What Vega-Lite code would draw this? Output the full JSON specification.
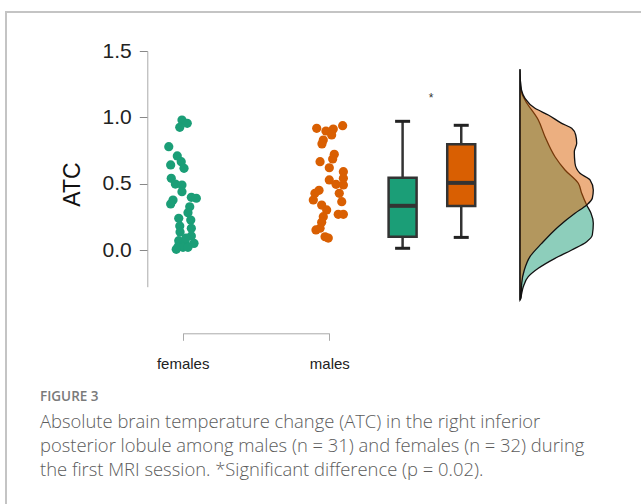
{
  "$schema": "https://vega.github.io/schema/vega-lite/v6.json",
  "width": 639,
  "height": 496,
  "autosize": {"type": "none"},
  "padding": {"left": 6, "top": 12, "right": -4, "bottom": -4},
  "background": "white",
  "config": {
    "view": {"stroke": "#c4c4c4", "strokeWidth": 2},
    "axis": {"grid": false}
  },
  "title": {
    "text": "FIGURE 3",
    "subtitle": [
      "Absolute brain temperature change (ATC) in the right inferior",
      "posterior lobule among males (n = 31) and females (n = 32) during",
      "the first MRI session. *Significant difference (p = 0.02)."
    ],
    "orient": "bottom",
    "anchor": "start",
    "frame": "group",
    "offset": -118,
    "dx": 34,
    "font": "Open Sans",
    "fontSize": 13.5,
    "fontWeight": 600,
    "color": "#7a7a7a",
    "subtitleFont": "Open Sans",
    "subtitleFontSize": 18.4,
    "subtitleFontWeight": 300,
    "subtitleColor": "#5c5c5c",
    "subtitleLineHeight": 24,
    "subtitlePadding": 9
  },
  "datasets": {
    "points": [
      {"group": "females", "pos": 0.995, "ATC": 0.98},
      {"group": "females", "pos": 1.031, "ATC": 0.955},
      {"group": "females", "pos": 0.98, "ATC": 0.925},
      {"group": "females", "pos": 0.905, "ATC": 0.779},
      {"group": "females", "pos": 0.963, "ATC": 0.709},
      {"group": "females", "pos": 0.99, "ATC": 0.666},
      {"group": "females", "pos": 1.009, "ATC": 0.616},
      {"group": "females", "pos": 0.918, "ATC": 0.641},
      {"group": "females", "pos": 0.922, "ATC": 0.54},
      {"group": "females", "pos": 0.95, "ATC": 0.497},
      {"group": "females", "pos": 0.995, "ATC": 0.49},
      {"group": "females", "pos": 0.995, "ATC": 0.439},
      {"group": "females", "pos": 1.059, "ATC": 0.397},
      {"group": "females", "pos": 1.093, "ATC": 0.39},
      {"group": "females", "pos": 0.934, "ATC": 0.377},
      {"group": "females", "pos": 0.918, "ATC": 0.347},
      {"group": "females", "pos": 1.048, "ATC": 0.326},
      {"group": "females", "pos": 1.036, "ATC": 0.281},
      {"group": "females", "pos": 0.973, "ATC": 0.239},
      {"group": "females", "pos": 1.055, "ATC": 0.226},
      {"group": "females", "pos": 0.98, "ATC": 0.181},
      {"group": "females", "pos": 1.059, "ATC": 0.164},
      {"group": "females", "pos": 1.059, "ATC": 0.106},
      {"group": "females", "pos": 0.973, "ATC": 0.07},
      {"group": "females", "pos": 1.018, "ATC": 0.05},
      {"group": "females", "pos": 1.077, "ATC": 0.05},
      {"group": "females", "pos": 0.968, "ATC": 0.025},
      {"group": "females", "pos": 1.002, "ATC": 0.02},
      {"group": "females", "pos": 1.036, "ATC": 0.02},
      {"group": "females", "pos": 0.956, "ATC": 0.005},
      {"group": "females", "pos": 1.023, "ATC": 0.09},
      {"group": "females", "pos": 0.982, "ATC": 0.136},
      {"group": "males", "pos": 1.914, "ATC": 0.917},
      {"group": "males", "pos": 1.977, "ATC": 0.897},
      {"group": "males", "pos": 2.027, "ATC": 0.912},
      {"group": "males", "pos": 2.091, "ATC": 0.937},
      {"group": "males", "pos": 2.016, "ATC": 0.867},
      {"group": "males", "pos": 1.959, "ATC": 0.829},
      {"group": "males", "pos": 1.95, "ATC": 0.8},
      {"group": "males", "pos": 2.034, "ATC": 0.721},
      {"group": "males", "pos": 2.023, "ATC": 0.686},
      {"group": "males", "pos": 1.937, "ATC": 0.666},
      {"group": "males", "pos": 2.0, "ATC": 0.62},
      {"group": "males", "pos": 2.096, "ATC": 0.59},
      {"group": "males", "pos": 2.096, "ATC": 0.54},
      {"group": "males", "pos": 2.0, "ATC": 0.528},
      {"group": "males", "pos": 2.046, "ATC": 0.495},
      {"group": "males", "pos": 2.096, "ATC": 0.49},
      {"group": "males", "pos": 1.93, "ATC": 0.45},
      {"group": "males", "pos": 1.902, "ATC": 0.427},
      {"group": "males", "pos": 2.068, "ATC": 0.427},
      {"group": "males", "pos": 1.891, "ATC": 0.377},
      {"group": "males", "pos": 1.948, "ATC": 0.339},
      {"group": "males", "pos": 2.085, "ATC": 0.364},
      {"group": "males", "pos": 1.982, "ATC": 0.302},
      {"group": "males", "pos": 2.061, "ATC": 0.269},
      {"group": "males", "pos": 2.096, "ATC": 0.269},
      {"group": "males", "pos": 1.959, "ATC": 0.251},
      {"group": "males", "pos": 1.948, "ATC": 0.209},
      {"group": "males", "pos": 1.937, "ATC": 0.164},
      {"group": "males", "pos": 1.909, "ATC": 0.151},
      {"group": "males", "pos": 1.971, "ATC": 0.1},
      {"group": "males", "pos": 1.993, "ATC": 0.09}
    ],
    "boxes": [
      {"group": "females", "pos": 2.5, "lo": 0.013, "q1": 0.1, "med": 0.333, "q3": 0.544, "hi": 0.97},
      {"group": "males", "pos": 2.9, "lo": 0.095, "q1": 0.331, "med": 0.506, "q3": 0.797, "hi": 0.94}
    ],
    "density_females": [
      {"ATC": -0.377, "density": 0},
      {"ATC": -0.352, "density": 0.022},
      {"ATC": -0.277, "density": 0.073},
      {"ATC": -0.201, "density": 0.184},
      {"ATC": -0.138, "density": 0.407},
      {"ATC": -0.063, "density": 0.778},
      {"ATC": 0.0, "density": 1.149},
      {"ATC": 0.063, "density": 1.482},
      {"ATC": 0.113, "density": 1.607},
      {"ATC": 0.201, "density": 1.629},
      {"ATC": 0.277, "density": 1.578},
      {"ATC": 0.339, "density": 1.482},
      {"ATC": 0.427, "density": 1.371},
      {"ATC": 0.503, "density": 1.296},
      {"ATC": 0.603, "density": 1.0},
      {"ATC": 0.703, "density": 0.778},
      {"ATC": 0.854, "density": 0.556},
      {"ATC": 0.98, "density": 0.407},
      {"ATC": 1.131, "density": 0.111},
      {"ATC": 1.183, "density": 0.038},
      {"ATC": 1.281, "density": 0.007},
      {"ATC": 1.362, "density": 0}
    ],
    "density_males": [
      {"ATC": -0.377, "density": 0},
      {"ATC": -0.362, "density": 0.022},
      {"ATC": -0.251, "density": 0.038},
      {"ATC": -0.151, "density": 0.096},
      {"ATC": -0.05, "density": 0.222},
      {"ATC": 0.05, "density": 0.482},
      {"ATC": 0.176, "density": 0.851},
      {"ATC": 0.277, "density": 1.222},
      {"ATC": 0.339, "density": 1.482},
      {"ATC": 0.39, "density": 1.607},
      {"ATC": 0.452, "density": 1.629},
      {"ATC": 0.528, "density": 1.556},
      {"ATC": 0.578, "density": 1.333},
      {"ATC": 0.654, "density": 1.222},
      {"ATC": 0.741, "density": 1.207},
      {"ATC": 0.804, "density": 1.26},
      {"ATC": 0.867, "density": 1.238},
      {"ATC": 0.917, "density": 1.149},
      {"ATC": 0.955, "density": 0.927},
      {"ATC": 1.018, "density": 0.629},
      {"ATC": 1.068, "density": 0.333},
      {"ATC": 1.143, "density": 0.111},
      {"ATC": 1.206, "density": 0.033},
      {"ATC": 1.281, "density": 0.007},
      {"ATC": 1.362, "density": 0}
    ]
  },
  "layer": [
    {
      "layer": [
        {
          "data": {"name": "points"},
          "mark": {"type": "circle", "size": 85, "opacity": 1},
          "encoding": {
            "x": {
              "field": "pos", "type": "quantitative",
              "scale": {"domain": [1, 2], "range": [176.7, 323.3], "nice": false, "zero": false, "padding": 0},
              "axis": {
                "orient": "bottom", "offset": -174.7, "values": [1, 2],
                "labelExpr": "datum.value == 1 ? 'females' : 'males'",
                "labelFlush": false, "labelOverlap": false,
                "title": null, "domainColor": "#aaaaaa", "domainWidth": 1,
                "tickColor": "#aaaaaa", "tickSize": 7, "tickWidth": 1,
                "labelFont": "Liberation Sans", "labelFontSize": 15, "labelColor": "#222222",
                "labelPadding": 16, "labelDx": -5
              }
            },
            "y": {
              "field": "ATC", "type": "quantitative",
              "scale": {"domain": [-0.2766, 1.5], "range": [274.7, 39], "nice": false, "zero": false, "padding": 0},
              "axis": {
                "orient": "left", "offset": -141.3, "values": [0, 0.5, 1, 1.5], "format": ".1f",
                "labelFlush": false, "labelOverlap": false,
                "title": "ATC", "titleFont": "Liberation Sans", "titleFontSize": 23,
                "titleFontWeight": "normal", "titleColor": "#111111",
                "titleX": -63, "titleY": 172, "titleAngle": -90, "titleAlign": "center",
                "domainColor": "#aaaaaa", "domainWidth": 1,
                "tickColor": "#888888", "tickSize": 8, "tickWidth": 1,
                "labelFont": "Liberation Sans", "labelFontSize": 21, "labelColor": "#222222",
                "labelPadding": 8
              }
            },
            "color": {
              "field": "group", "type": "nominal",
              "scale": {"domain": ["females", "males"], "range": ["#1b9e77", "#d95f02"]},
              "legend": null
            }
          }
        },
        {
          "data": {"name": "boxes"},
          "mark": {"type": "rule", "color": "#333333", "strokeWidth": 2.5},
          "encoding": {
            "x": {"field": "pos", "type": "quantitative"},
            "y": {"field": "lo", "type": "quantitative"},
            "y2": {"field": "hi"}
          }
        },
        {
          "data": {"name": "boxes"},
          "mark": {"type": "bar", "size": 28, "stroke": "#333333", "strokeWidth": 2.5, "opacity": 1},
          "encoding": {
            "x": {"field": "pos", "type": "quantitative"},
            "y": {"field": "q1", "type": "quantitative"},
            "y2": {"field": "q3"},
            "color": {"field": "group", "type": "nominal", "legend": null}
          }
        },
        {
          "data": {"name": "boxes"},
          "mark": {"type": "tick", "orient": "horizontal", "size": 28, "thickness": 4, "color": "#333333", "opacity": 1},
          "encoding": {
            "x": {"field": "pos", "type": "quantitative"},
            "y": {"field": "med", "type": "quantitative"}
          }
        },
        {
          "data": {"name": "boxes"},
          "mark": {"type": "tick", "orient": "horizontal", "size": 15, "thickness": 3, "color": "#222222", "opacity": 1},
          "encoding": {
            "x": {"field": "pos", "type": "quantitative"},
            "y": {"field": "lo", "type": "quantitative"}
          }
        },
        {
          "data": {"name": "boxes"},
          "mark": {"type": "tick", "orient": "horizontal", "size": 15, "thickness": 3, "color": "#222222", "opacity": 1},
          "encoding": {
            "x": {"field": "pos", "type": "quantitative"},
            "y": {"field": "hi", "type": "quantitative"}
          }
        },
        {
          "data": {"values": [{"label": "*"}]},
          "mark": {"type": "text", "font": "Liberation Sans", "fontSize": 12, "color": "#333333", "baseline": "middle", "dy": 3},
          "encoding": {
            "x": {"datum": 2.694, "type": "quantitative"},
            "y": {"datum": 1.168, "type": "quantitative"},
            "text": {"field": "label"}
          }
        }
      ]
    },
    {
      "layer": [
        {
          "data": {"name": "density_females"},
          "mark": {"type": "area", "orient": "horizontal", "interpolate": "monotone", "color": "#1b9e77", "fillOpacity": 0.5, "stroke": "#111111", "strokeWidth": 1.3},
          "encoding": {
            "y": {"field": "ATC", "type": "quantitative"},
            "x": {"field": "density", "type": "quantitative", "axis": null,
                  "scale": {"domain": [0, 2], "range": [514, 604], "nice": false}}
          }
        },
        {
          "data": {"name": "density_males"},
          "mark": {"type": "area", "orient": "horizontal", "interpolate": "monotone", "color": "#d95f02", "fillOpacity": 0.5, "stroke": "#111111", "strokeWidth": 1.3},
          "encoding": {
            "y": {"field": "ATC", "type": "quantitative"},
            "x": {"field": "density", "type": "quantitative", "axis": null}
          }
        }
      ]
    }
  ],
  "resolve": {"scale": {"x": "independent"}}
}
